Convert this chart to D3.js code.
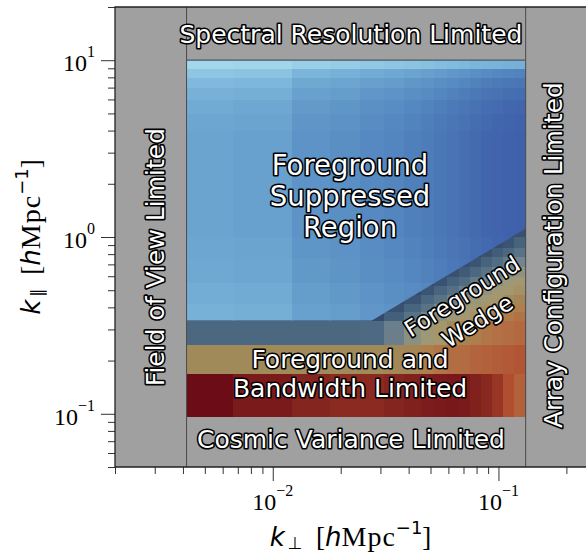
<!DOCTYPE html>
<meta charset="utf-8">
<style>
body { margin: 0; background: #fff; }
svg { display: block; }
.region text {
  font-family: "DejaVu Sans", sans-serif;
  fill: #fff;
  stroke: #000;
  stroke-width: 3.2px;
  stroke-linejoin: round;
  paint-order: stroke;
}
.ticklab { font-family: "Liberation Serif", serif; fill: #000; }
</style>
<svg width="586" height="552"></svg>
<script src="https://d3js.org/d3.v7.min.js"></script>
<script>

// k_perp bin edges of the coloured grid (h/Mpc)
var kperpEdges = [0.00415, 0.0067, 0.0122, 0.018, 0.0244, 0.031, 0.038, 0.0455, 0.052,
                  0.0594, 0.067, 0.075, 0.084, 0.094, 0.105, 0.117, 0.132];

// foreground suppressed (EoR) window: k_par edges and shading level per cell
var eorKparEdges = [0.337, 0.42, 0.55, 0.75, 1.0, 1.5, 2, 3, 4, 5, 6, 7, 8, 9, 10];
var eorLevel = [
  [0.35,0.37,0.47,0.50,0.54,0.57,0.60,0.63,0.66,0.69,0.72,0.75,0.78,0.80,0.82,0.83],
  [0.38,0.40,0.50,0.53,0.57,0.60,0.63,0.66,0.69,0.72,0.75,0.78,0.81,0.83,0.85,0.86],
  [0.41,0.43,0.53,0.56,0.60,0.63,0.66,0.69,0.72,0.75,0.78,0.81,0.84,0.86,0.88,0.89],
  [0.43,0.45,0.55,0.58,0.62,0.65,0.68,0.71,0.74,0.77,0.80,0.83,0.86,0.88,0.90,0.91],
  [0.45,0.47,0.57,0.60,0.64,0.67,0.70,0.73,0.76,0.79,0.82,0.85,0.88,0.90,0.92,0.93],
  [0.45,0.47,0.57,0.60,0.64,0.67,0.70,0.73,0.76,0.79,0.82,0.85,0.88,0.90,0.92,0.93],
  [0.45,0.47,0.57,0.60,0.64,0.67,0.70,0.73,0.76,0.79,0.82,0.85,0.88,0.90,0.92,0.93],
  [0.45,0.47,0.57,0.60,0.64,0.67,0.70,0.73,0.76,0.79,0.82,0.85,0.88,0.90,0.92,0.93],
  [0.43,0.45,0.55,0.58,0.62,0.65,0.68,0.71,0.74,0.77,0.80,0.83,0.86,0.88,0.90,0.91],
  [0.40,0.42,0.52,0.55,0.59,0.62,0.65,0.68,0.71,0.74,0.77,0.80,0.83,0.85,0.87,0.88],
  [0.35,0.37,0.47,0.50,0.54,0.57,0.60,0.63,0.66,0.69,0.72,0.75,0.78,0.80,0.82,0.83],
  [0.29,0.31,0.41,0.44,0.48,0.51,0.54,0.57,0.60,0.63,0.66,0.69,0.72,0.74,0.76,0.77],
  [0.20,0.22,0.32,0.35,0.39,0.42,0.45,0.48,0.51,0.54,0.57,0.60,0.63,0.65,0.67,0.68],
  [0.05,0.07,0.12,0.15,0.18,0.20,0.22,0.24,0.26,0.28,0.30,0.32,0.33,0.34,0.35,0.36]
];

// foreground contamination (bands + wedge): k_par edges and level per cell
var fgKparEdges = [0.096, 0.168, 0.246, 0.337, 0.38, 0.42, 0.47, 0.53, 0.6, 0.68, 0.77, 0.87, 1.0, 1.12];
var fgLevel = [
  [0.99,0.93,0.88,0.86,0.86,0.88,0.90,0.92,0.93,0.94,0.93,0.90,0.87,0.83,0.77,0.72],
  [0.55,0.55,0.55,0.55,0.55,0.56,0.58,0.62,0.65,0.68,0.69,0.71,0.72,0.73,0.74,0.75],
  [0.15,0.15,0.15,0.15,0.17,0.27,0.37,0.44,0.50,0.55,0.59,0.62,0.65,0.67,0.68,0.70],
  [0,0,0,0,0,0.10,0.22,0.30,0.37,0.43,0.48,0.52,0.56,0.60,0.63,0.66],
  [0,0,0,0,0,0.03,0.13,0.22,0.30,0.36,0.42,0.46,0.51,0.55,0.59,0.62],
  [0,0,0,0,0,0,0.05,0.14,0.22,0.29,0.35,0.41,0.46,0.50,0.54,0.58],
  [0,0,0,0,0,0,0,0.05,0.13,0.21,0.27,0.33,0.39,0.44,0.48,0.52],
  [0,0,0,0,0,0,0,0,0.04,0.11,0.18,0.25,0.30,0.36,0.42,0.46],
  [0,0,0,0,0,0,0,0,0,0.03,0.08,0.15,0.22,0.28,0.33,0.39],
  [0,0,0,0,0,0,0,0,0,0,0.02,0.05,0.12,0.19,0.25,0.30],
  [0,0,0,0,0,0,0,0,0,0,0,0,0.03,0.09,0.15,0.22],
  [0,0,0,0,0,0,0,0,0,0,0,0,0,0.02,0.05,0.12],
  [0,0,0,0,0,0,0,0,0,0,0,0,0,0,0,0.03]
];

// wedge edge: start and end points (k_perp, k_par)
var wedgeEdge = [[0.0275, 0.337], [0.132, 1.116]];
var kparMax = 10, kparMin = 0.096;

var xMajor = [1e-2, 1e-1], xMajorExp = ["\u22122", "\u22121"];
var yMajor = [1e-1, 1e0, 1e1], yMajorExp = ["\u22121", "0", "1"];

var regionLabels = [
  {lines: ["Spectral Resolution Limited"], kperp: 0.0222, kpar: 12.5, size: 25, gap: 0, angle: 0},
  {lines: ["Cosmic Variance Limited"], kperp: 0.0222, kpar: 0.064, size: 25, gap: 0, angle: 0},
  {lines: ["Foreground", "Suppressed", "Region"], kperp: 0.022, kpar: 2.24, size: 27.5, gap: 31, angle: 0},
  {lines: ["Foreground and", "Bandwidth Limited"], kperp: 0.022, kpar: 0.1815, size: 25, gap: 29, angle: 0},
  {lines: ["Field of View Limited"], kperp: 0.0033, kpar: 0.77, size: 25, gap: 0, angle: -90},
  {lines: ["Array Configuration Limited"], kperp: 0.191, kpar: 0.79, size: 25, gap: 0, angle: -90}
];
var wedgeLabel = {lines: ["Foreground", "Wedge"], kperp: 0.0745, kpar: 0.394, size: 23, gap: 29, angle: -32};

var svg = d3.select("svg");
var plotLeft = 115, plotRight = 586, plotTop = 7, plotBottom = 467;

var x = d3.scaleLog().domain([0.002, 0.2443]).range([plotLeft, plotRight]);
var y = d3.scaleLog().domain([0.05, 20]).range([plotBottom, plotTop]);

var blueColor = d3.scaleLinear()
    .domain([0, 0.15, 0.3, 0.45, 0.6, 0.75, 0.88, 1])
    .range(["#aadcee", "#96cce6", "#7eb8dc", "#6aa4cf", "#5a8fc4", "#4b79b7", "#4266ae", "#3b57a5"]);

var fgColor = d3.scaleLinear()
    .domain([0, 0.12, 0.2, 0.3, 0.42, 0.5, 0.55, 0.62, 0.7, 0.77, 0.86, 1])
    .range(["#34496c", "#46647e", "#526e84", "#748590", "#9c9878", "#a6966c",
            "#a08a5a", "#ae7e4c", "#b46840", "#b04e30", "#8a2a20", "#6a0a16"]);

// axes background
svg.append("rect")
    .attr("x", plotLeft).attr("y", plotTop)
    .attr("width", plotRight - plotLeft).attr("height", plotBottom - plotTop)
    .attr("fill", "#a0a0a0");

function cells(kparEdges, level) {
  var out = [];
  level.forEach(function(row, i) {
    row.forEach(function(v, j) {
      out.push({x0: kperpEdges[j], x1: kperpEdges[j + 1], y0: kparEdges[i], y1: kparEdges[i + 1], v: v});
    });
  });
  return out;
}

function drawCells(g, data, color) {
  g.selectAll("rect")
    .data(data)
    .enter().append("rect")
      .attr("x", function(d) { return x(d.x0); })
      .attr("y", function(d) { return y(d.y1); })
      .attr("width", function(d) { return x(d.x1) - x(d.x0) + 0.3; })
      .attr("height", function(d) { return y(d.y0) - y(d.y1) + 0.3; })
      .attr("fill", function(d) { return color(d.v); })
      .attr("shape-rendering", "crispEdges");
}

/************* FOREGROUND LAYER ***************/
drawCells(svg.append("g"), cells(fgKparEdges, fgLevel), fgColor);

/************* SUPPRESSED REGION (clipped above the wedge) ***************/
var kperpMin = kperpEdges[0], kperpMax = kperpEdges[kperpEdges.length - 1];
var clipPts = [[kperpMin, wedgeEdge[0][1]], wedgeEdge[0], wedgeEdge[1], [kperpMax, kparMax], [kperpMin, kparMax]];
svg.append("clipPath").attr("id", "eorclip")
  .append("polygon")
    .attr("points", clipPts.map(function(p) { return x(p[0]) + "," + y(p[1]); }).join(" "));

drawCells(svg.append("g").attr("clip-path", "url(#eorclip)"), cells(eorKparEdges, eorLevel), blueColor);

/************* REGION BOUNDARIES ***************/
[kperpMin, kperpMax].forEach(function(k) {
  svg.append("line")
      .attr("x1", x(k)).attr("x2", x(k))
      .attr("y1", plotTop).attr("y2", plotBottom)
      .attr("stroke", "#4a4a4a").attr("stroke-width", 1);
});
svg.append("line")
    .attr("x1", x(kperpMin)).attr("x2", x(kperpMax))
    .attr("y1", y(kparMax)).attr("y2", y(kparMax))
    .attr("stroke", "#4a5866").attr("stroke-width", 1.2);

/************* REGION LABELS ***************/
var reg = svg.append("g").attr("class", "region");

function addLabel(lab, centred) {
  var g = reg.append("g")
      .attr("transform", "translate(" + x(lab.kperp) + "," + y(lab.kpar) + ") rotate(" + lab.angle + ")");
  var n = lab.lines.length;
  lab.lines.forEach(function(s, i) {
    var off = centred ? (i - (n - 1) / 2) * lab.gap + lab.size * 0.36 : i * lab.gap;
    g.append("text")
        .attr("text-anchor", "middle")
        .attr("y", off)
        .style("font-size", lab.size + "px")
        .text(s);
  });
}
regionLabels.forEach(function(l) { addLabel(l, false); });
addLabel(wedgeLabel, true);

/************* AXES ***************/
function minorTicks(scale, major) {
  return scale.ticks().filter(function(t) {
    return !major.some(function(m) { return Math.abs(m - t) / m < 1e-6; });
  });
}

svg.append("g")
    .attr("transform", "translate(0," + plotBottom + ")")
    .call(d3.axisBottom(x).tickValues(minorTicks(x, xMajor)).tickSize(7).tickFormat(""))
    .call(function(g) { g.select(".domain").remove(); });
svg.append("g")
    .attr("transform", "translate(0," + plotBottom + ")")
    .call(d3.axisBottom(x).tickValues(xMajor).tickSize(14).tickFormat(""))
    .call(function(g) { g.select(".domain").remove(); });
svg.append("g")
    .attr("transform", "translate(" + plotLeft + ",0)")
    .call(d3.axisLeft(y).tickValues(minorTicks(y, yMajor)).tickSize(7).tickFormat(""))
    .call(function(g) { g.select(".domain").remove(); });
svg.append("g")
    .attr("transform", "translate(" + plotLeft + ",0)")
    .call(d3.axisLeft(y).tickValues(yMajor).tickSize(14).tickFormat(""))
    .call(function(g) { g.select(".domain").remove(); });

svg.selectAll(".tick line").attr("stroke", "#333").attr("stroke-width", 1);

// spines
svg.append("path")
    .attr("d", "M" + plotRight + "," + plotTop + "H" + plotLeft + "V" + plotBottom + "H" + plotRight)
    .attr("fill", "none").attr("stroke", "#222").attr("stroke-width", 1.3);

// tick labels
function powLabel(t, exp) {
  t.append("tspan").style("font-size", "24px").text("10");
  t.append("tspan").style("font-size", "16px").attr("dy", -14).text(exp);
}
xMajor.forEach(function(v, i) {
  svg.append("text").attr("class", "ticklab")
      .attr("x", x(v)).attr("y", 510)
      .attr("text-anchor", "middle")
      .call(powLabel, xMajorExp[i]);
});
yMajor.forEach(function(v, i) {
  svg.append("text").attr("class", "ticklab")
      .attr("x", 95).attr("y", y(v) + 11)
      .attr("text-anchor", "end")
      .call(powLabel, yMajorExp[i]);
});

// axis titles
function axisTitle(t, sub) {
  var sans = "DejaVu Sans", serif = "Liberation Serif";
  t.append("tspan").style("font-family", sans).style("font-style", "italic").style("font-size", "26px").text("k");
  t.append("tspan").style("font-family", sans).style("font-size", "17px").attr("dx", 3).attr("dy", 3).text(sub);
  t.append("tspan").style("font-family", serif).style("font-size", "27px").attr("dy", -3).text("\u00a0\u00a0[");
  t.append("tspan").style("font-family", sans).style("font-style", "italic").style("font-size", "26px").text("h");
  t.append("tspan").style("font-family", serif).style("font-size", "28px").style("letter-spacing", "1px").text("Mpc");
  t.append("tspan").style("font-family", sans).style("font-size", "18px").attr("dy", -12).text("\u22121");
  t.append("tspan").style("font-family", serif).style("font-size", "27px").attr("dy", 12).text("]");
}
svg.append("text")
    .attr("x", (plotLeft + plotRight) / 2).attr("y", 546)
    .attr("text-anchor", "middle")
    .call(axisTitle, "\u22a5");
svg.append("text")
    .attr("transform", "translate(40," + (plotTop + plotBottom) / 2 + ") rotate(-90)")
    .attr("text-anchor", "middle")
    .call(axisTitle, "\u2225");

</script>
